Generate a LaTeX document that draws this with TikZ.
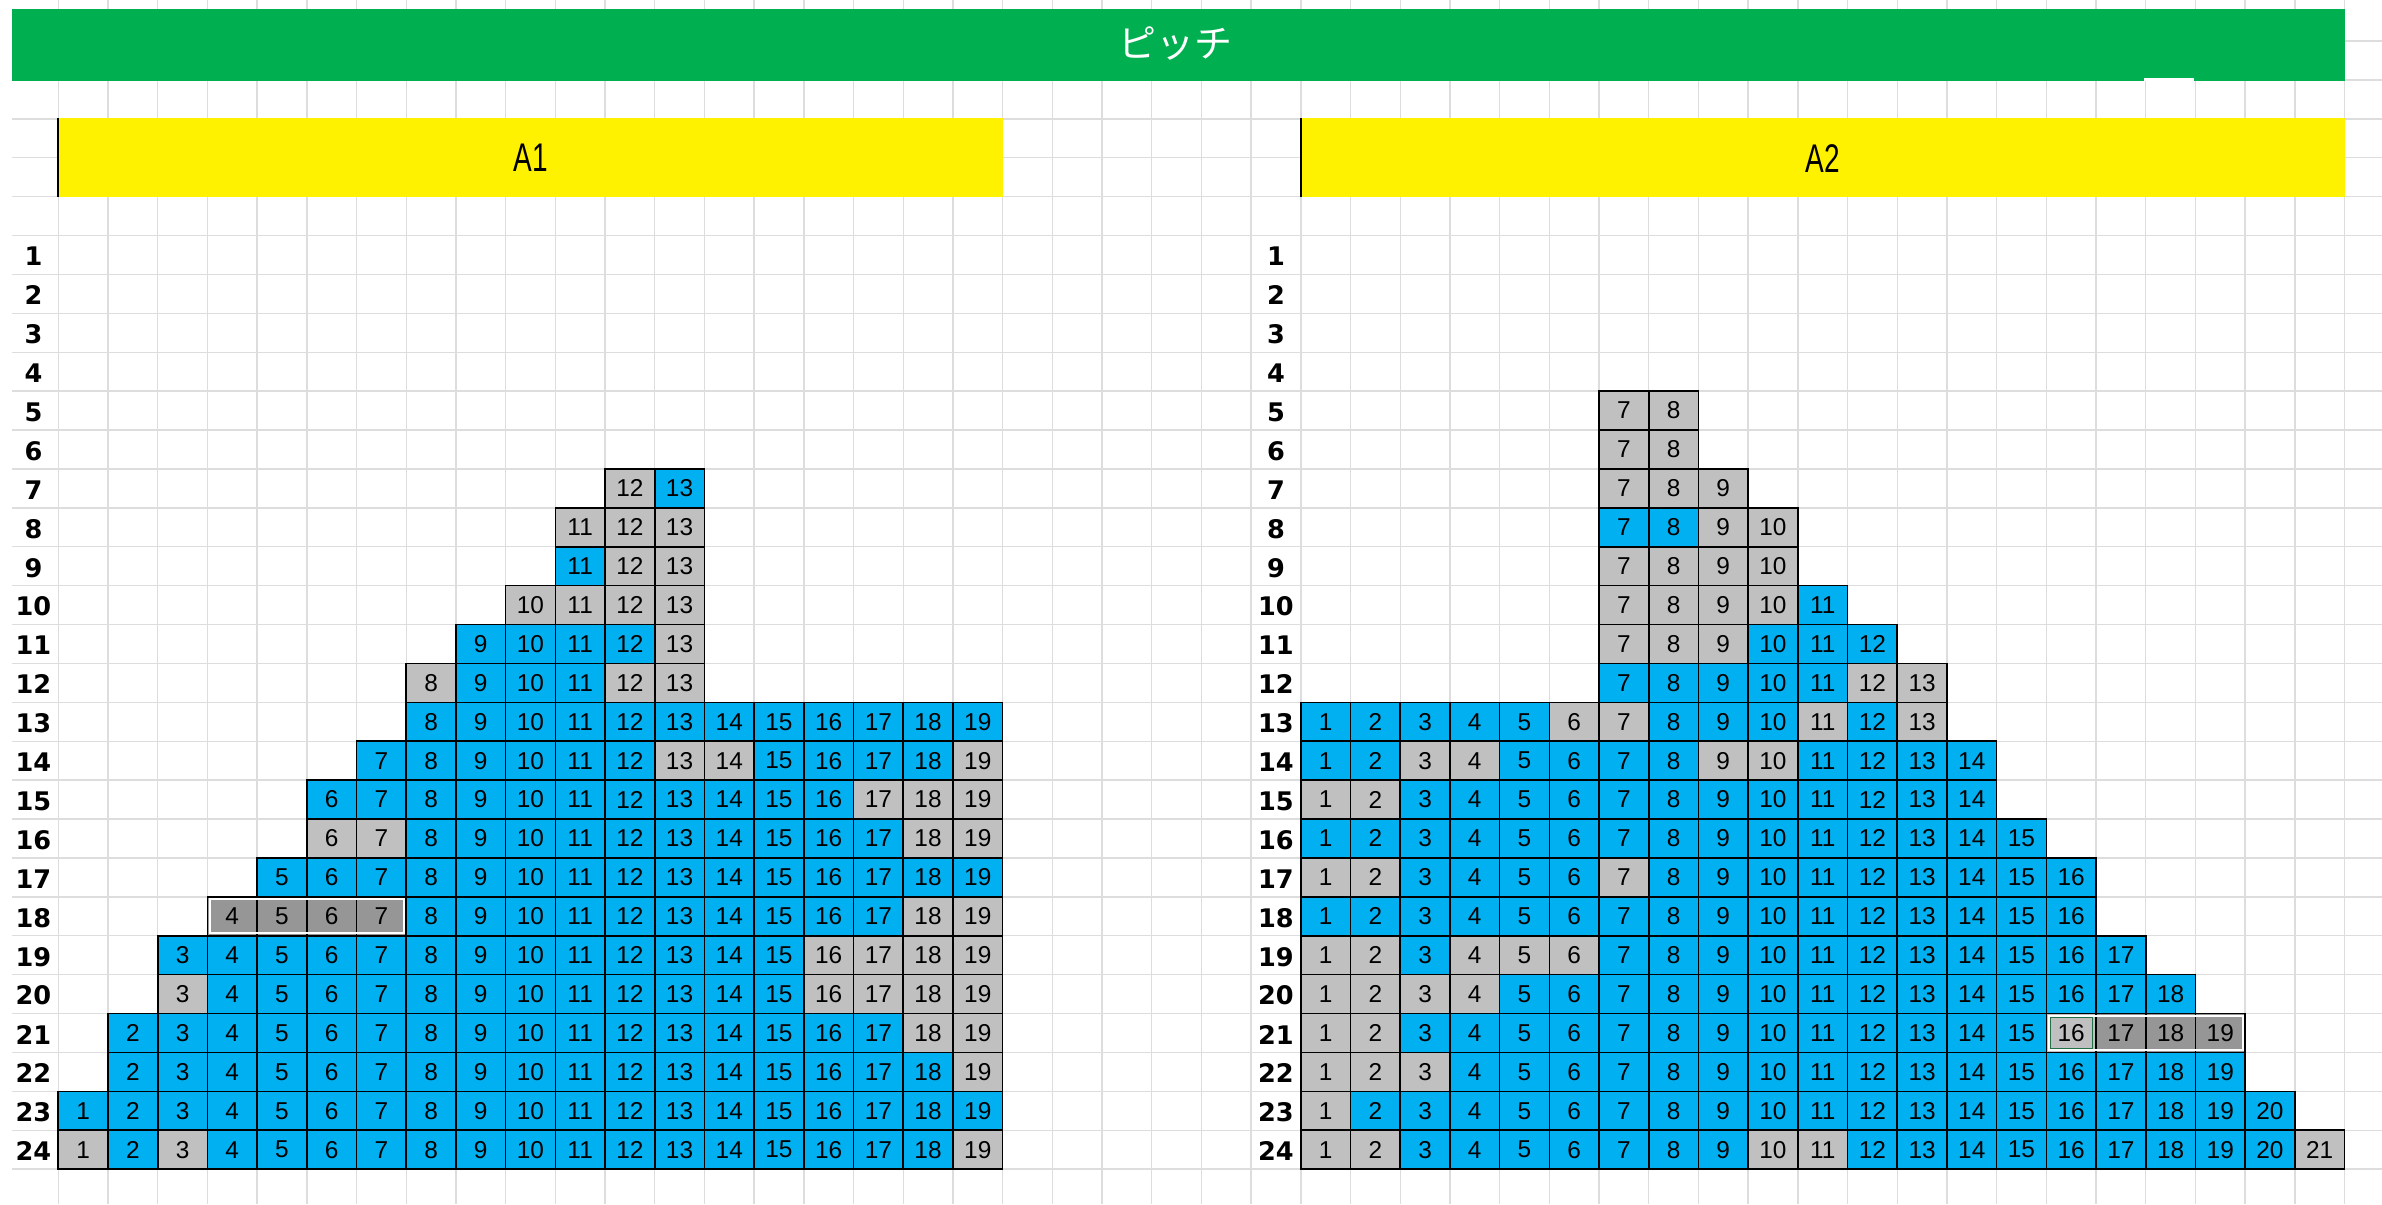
\documentclass[tikz,border=0pt]{standalone}
\usepackage{fontspec}
\setmainfont{Liberation Sans}
\newfontfamily\rowfont{DejaVu Sans}
\newfontfamily\jpfont{Noto Sans CJK JP}
\newfontfamily\narrowfont[FakeStretch=0.7]{Liberation Sans}
\definecolor{seatB}{HTML}{00B0F0}
\definecolor{seatG}{HTML}{C0C0C0}
\definecolor{seatD}{HTML}{969696}
\definecolor{pitchgreen}{HTML}{00B050}
\definecolor{gridgray}{HTML}{DDDDDD}
\definecolor{selgreen}{HTML}{217346}
\begin{document}
\begin{tikzpicture}[x=24.85pt,y=-19.45pt,
  gridline/.style={gridgray,line width=0.7pt},
  seat/.style={draw=black,line width=0.8pt,minimum width=24.85pt,minimum height=19.45pt,
    inner sep=0pt,outer sep=0pt,font=\fontsize{12.2}{14}\selectfont},
  rowlabel/.style={yshift=-0.8pt,font=\rowfont\bfseries\fontsize{12.8}{14}\selectfont},
  blocklabel/.style={font=\narrowfont\fontsize{20}{24}\selectfont}]
  \useasboundingbox (-1.173,-6.054) rectangle (46.754,24.897);

  % sheet grid
  \foreach \k in {-5,...,24} \draw[gridline] (-0.93,\k) -- (46.754,\k);
  \foreach \k in {0,...,46} \draw[gridline] (\k,-6.054) -- (\k,24.897);

  % header bars
  \fill[pitchgreen] (-0.93,-5.82) rectangle (46,-3.98);
  \fill[white] (41.97,-4.04) rectangle (42.97,-3.97);
  \node[text=white,font=\jpfont\fontsize{19}{22}\selectfont] (pitch) at (22.47,-4.93) {ピッチ};
  \fill[yellow] (0,-3.02) rectangle (19,-0.98);
  \draw[line width=0.8pt] (0,-3.02) -- (0,-0.98);
  \node[blocklabel] (blockA1) at (9.5,-1.99) {A1};
  \fill[yellow] (25,-3.02) rectangle (46,-0.98);
  \draw[line width=0.8pt] (25,-3.02) -- (25,-0.98);
  \node[blocklabel] (blockA2) at (35.5,-1.99) {A2};

  % row numbers
  \foreach \r in {1,...,24} {
    \node[rowlabel] (labA1-\r) at (-0.5,\r-0.5) {\r};
    \node[rowlabel] (labA2-\r) at (24.5,\r-0.5) {\r};
  }

  % block A1: row / {first/last/colour, ...}
  \foreach \r/\segs in {7/{12/12/G,13/13/B}, 8/{11/13/G}, 9/{11/11/B,12/13/G},
      10/{10/13/G}, 11/{9/12/B,13/13/G}, 12/{8/8/G,9/11/B,12/13/G}, 13/{8/19/B},
      14/{7/12/B,13/14/G,15/18/B,19/19/G}, 15/{6/16/B,17/19/G},
      16/{6/7/G,8/17/B,18/19/G}, 17/{5/19/B}, 18/{4/7/D,8/17/B,18/19/G},
      19/{3/15/B,16/19/G}, 20/{3/3/G,4/15/B,16/19/G}, 21/{2/17/B,18/19/G},
      22/{2/18/B,19/19/G}, 23/{1/19/B}, 24/{1/1/G,2/2/B,3/3/G,4/18/B,19/19/G}}
    \foreach \f/\l/\k in \segs
      \foreach \c in {\f,...,\l}
        \node[seat,fill=seat\k] (A1-\r-\c) at (\c-0.5,\r-0.5) {\raisebox{-1pt}{\c}};

  % block A2
  \foreach \r/\segs in {5/{7/8/G}, 6/{7/8/G}, 7/{7/9/G}, 8/{7/8/B,9/10/G},
      9/{7/10/G}, 10/{7/10/G,11/11/B}, 11/{7/9/G,10/12/B}, 12/{7/11/B,12/13/G},
      13/{1/5/B,6/7/G,8/10/B,11/11/G,12/12/B,13/13/G},
      14/{1/2/B,3/4/G,5/8/B,9/10/G,11/14/B}, 15/{1/2/G,3/14/B}, 16/{1/15/B},
      17/{1/2/G,3/6/B,7/7/G,8/16/B}, 18/{1/16/B}, 19/{1/2/G,3/3/B,4/6/G,7/17/B},
      20/{1/4/G,5/18/B}, 21/{1/2/G,3/15/B,16/16/G,17/19/D}, 22/{1/3/G,4/19/B},
      23/{1/1/G,2/20/B}, 24/{1/2/G,3/9/B,10/11/G,12/20/B,21/21/G}}
    \foreach \f/\l/\k in \segs
      \foreach \c in {\f,...,\l}
        \node[seat,fill=seat\k] (A2-\r-\c) at (25+\c-0.5,\r-0.5) {\raisebox{-1pt}{\c}};

  % framed groups
  \draw[white,line width=1pt] ([xshift=1.3pt,yshift=-1.3pt]A1-18-4.north west)
    rectangle ([xshift=-1.3pt,yshift=1.3pt]A1-18-7.south east);
  \draw[white,line width=1pt] ([xshift=1.3pt,yshift=-1.3pt]A2-21-16.north west)
    rectangle ([xshift=-1.3pt,yshift=1.3pt]A2-21-19.south east);
  \draw[selgreen,line width=0.6pt] ([xshift=1.9pt,yshift=-1.9pt]A2-21-16.north west)
    rectangle ([xshift=-1.9pt,yshift=1.9pt]A2-21-16.south east);
\end{tikzpicture}
\end{document}
